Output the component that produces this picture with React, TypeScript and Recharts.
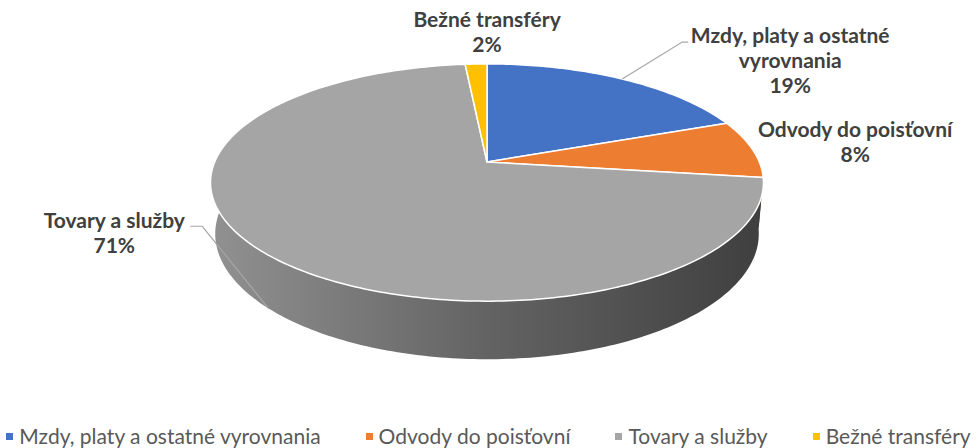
import { Legend, Pie, PieChart } from 'recharts';

const NAMES = ['Mzdy, platy a ostatné vyrovnania', 'Odvody do poisťovní', 'Tovary a služby', 'Bežné transféry'];
const LABEL_LINES = [['Mzdy, platy a ostatné', 'vyrovnania'], ['Odvody do poisťovní'], ['Tovary a služby'], ['Bežné transféry']];
const SHARES = [19.2, 7.9, 71.4, 1.5];
const COLORS = ['#4472C4', '#ED7D31', '#A5A5A5', '#FFC000'];

const data = NAMES.map((name, i) => ({ name, value: SHARES[i] }));

// label placement relative to the rim anchor of each slice
const LABEL_LAYOUT = [
  { depth: false, dx: 168, dy: -36, leader: [[60, -37], [66, -37]] },
  { depth: false, dx: 103, dy: -12, leader: null },
  { depth: true, dx: -154, dy: -80, leader: [[-66, -82], [-78, -82]] },
  { depth: false, dx: 11, dy: -37, leader: null },
];

const RAD = Math.PI / 180;
const TILT = 25 * RAD;
const DIST = 5.24;
const FOCAL = 5.17;
const DEPTH = 0.208;
const LABEL_FONT = 'Lato, "Open Sans", sans-serif';

function project(cx: number, cy: number, R: number, deg: number, r = 1, h = 0) {
  const t = deg * RAD;
  const X = r * Math.cos(t);
  const Z = -r * Math.sin(t);
  const u = h * Math.cos(TILT) - Z * Math.sin(TILT);
  const d = DIST - h * Math.sin(TILT) - Z * Math.cos(TILT);
  const f = FOCAL * R;
  return { x: cx + (f * X) / d, y: cy - (f * u) / d, d };
}

function shade(hex: string, k: number) {
  const n = parseInt(hex.slice(1), 16);
  const c = [(n >> 16) & 255, (n >> 8) & 255, n & 255].map((v) => Math.round(Math.min(255, v * k)));
  return `rgb(${c[0]},${c[1]},${c[2]})`;
}

function arcAngles(a0: number, a1: number) {
  const steps = Math.max(2, Math.ceil(Math.abs(a1 - a0)));
  return Array.from({ length: steps + 1 }, (_, k) => a0 + ((a1 - a0) * k) / steps);
}

function WallLabel(props: any) {
  const { cx, cy, outerRadius, startAngle, endAngle, index } = props;
  const lo = Math.max(Math.min(startAngle, endAngle), -180);
  const hi = Math.min(Math.max(startAngle, endAngle), 0);
  if (hi <= lo) return null;
  const angles = arcAngles(lo, hi);
  const top = angles.map((a) => project(cx, cy, outerRadius, a));
  const bottom = angles.map((a) => project(cx, cy, outerRadius, a, 1, -DEPTH)).reverse();
  const pts = [...top, ...bottom].map((p) => `${p.x},${p.y}`).join(' ');
  const id = `wall-${index}`;
  return (
    <g>
      <defs>
        <linearGradient id={id} gradientUnits="userSpaceOnUse" x1={cx - outerRadius} y1={0} x2={cx + outerRadius} y2={0}>
          <stop offset="0%" stopColor={shade(COLORS[index], 0.88)} />
          <stop offset="50%" stopColor={shade(COLORS[index], 0.6)} />
          <stop offset="100%" stopColor={shade(COLORS[index], 0.38)} />
        </linearGradient>
      </defs>
      <polygon points={pts} fill={`url(#${id})`} />
    </g>
  );
}

function TopLabel(props: any) {
  const { cx, cy, outerRadius, startAngle, endAngle, index } = props;
  const c = project(cx, cy, outerRadius, 0, 0);
  const pts = arcAngles(startAngle, endAngle).map((a) => project(cx, cy, outerRadius, a));
  const d = `M${c.x},${c.y} ` + pts.map((p) => `L${p.x},${p.y}`).join(' ') + ' Z';
  return <path d={d} fill={COLORS[index]} stroke="#fff" strokeWidth={1.5} strokeLinejoin="round" />;
}

function TextLabel(props: any) {
  const { cx, cy, outerRadius, midAngle, percent, index } = props;
  const lay = LABEL_LAYOUT[index];
  const a = project(cx, cy, outerRadius, midAngle, 1, lay.depth ? -DEPTH : 0);
  const lines = [...LABEL_LINES[index], `${Math.round(percent * 100)}%`];
  return (
    <g>
      {lay.leader && (
        <polyline
          points={[[0, 0], ...lay.leader].map(([x, y]) => `${a.x + x},${a.y + y}`).join(' ')}
          fill="none"
          stroke="#A6A6A6"
          strokeWidth={1.2}
        />
      )}
      <text
        x={a.x + lay.dx}
        y={a.y + lay.dy}
        textAnchor="middle"
        fill="#404040"
        fontFamily={LABEL_FONT}
        fontWeight={700}
        fontSize={21}
      >
        {lines.map((t, k) => (
          <tspan key={k} x={a.x + lay.dx} dy={k === 0 ? 0 : 25}>
            {t}
          </tspan>
        ))}
      </text>
    </g>
  );
}

function LegendContent() {
  return (
    <div style={{ display: 'flex', justifyContent: 'center', gap: 45, fontFamily: LABEL_FONT, fontSize: 21, lineHeight: '24px', color: '#595959', whiteSpace: 'nowrap' }}>
      {NAMES.map((name, i) => (
        <div key={name} style={{ display: 'flex', alignItems: 'center' }}>
          <span style={{ width: 7, height: 7, background: COLORS[i], marginRight: 6, display: 'inline-block' }} />
          <span>{name}</span>
        </div>
      ))}
    </div>
  );
}

export default function App() {
  const common = {
    data,
    dataKey: 'value',
    nameKey: 'name',
    cx: 487,
    cy: 162,
    outerRadius: 276,
    startAngle: 90,
    endAngle: -270,
    fill: 'none',
    stroke: 'none',
    labelLine: false,
    isAnimationActive: false,
  };
  return (
    <div style={{ width: 977, height: 448 }}>
      <style>{'body{margin:0}'}</style>
      <PieChart width={977} height={448} margin={{ top: 0, right: 0, bottom: 0, left: 0 }}>
        <Pie {...common} label={WallLabel} legendType="square" />
        <Pie {...common} label={TopLabel} legendType="none" />
        <Pie {...common} label={TextLabel} legendType="none" />
        <Legend verticalAlign="bottom" content={<LegendContent />} wrapperStyle={{ bottom: 0 }} />
      </PieChart>
    </div>
  );
}
